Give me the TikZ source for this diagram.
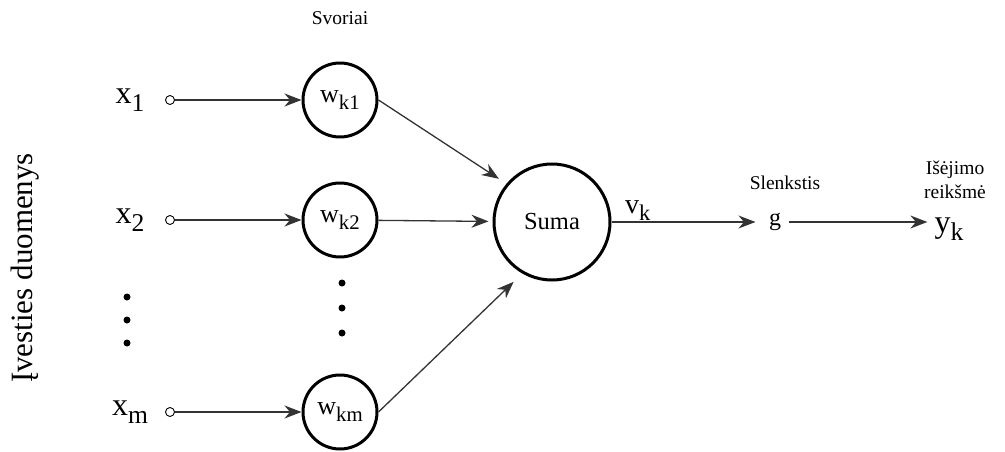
\documentclass[tikz,border=0pt]{standalone}
\usepackage{fontspec}
\usepackage{graphicx}
\setmainfont{Liberation Serif}
\usetikzlibrary{arrows.meta}
\newcommand\idx[1]{\raisebox{-0.24em}{\scalebox{0.8}{#1}}}
\tikzset{
  weight/.style={circle,draw,line width=3pt,minimum size=74pt,inner sep=0pt,font=\fontsize{26}{28}\selectfont},
  suma/.style={circle,draw,line width=3pt,minimum size=116pt,inner sep=0pt,font=\fontsize{24.5}{26}\selectfont},
  inlabel/.style={font=\fontsize{32}{34}\selectfont},
  small/.style={font=\fontsize{19.5}{24}\selectfont},
  port/.style={circle,draw,inner sep=0pt,minimum size=9pt,line width=0.9pt},
  blob/.style={circle,fill,inner sep=0pt,minimum size=7pt},
  link/.style={->,line width=1.3pt,draw=black!80},
}
\begin{document}
\begin{tikzpicture}[x=1pt,y=-1pt,>={Stealth[length=17pt,width=13pt]},line join=round]
\useasboundingbox (0,0) rectangle (1005,452);
% inputs
\node[rotate=90,font=\fontsize{31}{34}\selectfont] (lab) at (25,268) {Įvesties duomenys};
\node[small] (svor) at (340,18) {Svoriai};
\node[inlabel] (x1) at (130,100) {x\idx{1}};
\node[inlabel] (x2) at (130,220) {x\idx{2}};
\node[inlabel] (xm) at (130,412) {x\idx{m}};
\node[port] (p1) at (170,100) {};
\node[port] (p2) at (170,220) {};
\node[port] (pm) at (170,412) {};
\node[weight] (w1) at (340,100) {w\idx{k1}};
\node[weight] (w2) at (340,220) {w\idx{k2}};
\node[weight] (wm) at (340,412) {w\idx{km}};
\foreach \y [count=\i] in {297,320,343} \node[blob] (a\i) at (127,\y) {};
\foreach \y [count=\i] in {283,308,333} \node[blob] (b\i) at (342,\y) {};
\draw[link] (p1) -- (w1);
\draw[link] (p2) -- (w2);
\draw[link] (pm) -- (wm);
% sum and output
\node[suma] (sum) at (552,222) {Suma};
\draw[link] (w1.east) -- (sum.140) [shorten >=9pt];
\draw[link,shorten >=4pt] (w2) -- (sum);
\draw[link,shorten >=12pt] (wm.east) -- (sum.240);
\node[font=\fontsize{24}{26}\selectfont] (g) at (775,222) {g};
\node[small] (thr) at (785,183) {Slenkstis};
\node[inlabel,inner sep=1pt] (yk) at (949,229) {y\idx{k}};
\node[small,align=center,inner sep=1pt] (out) at (955,180) {Išėjimo\\reikšmė};
\draw[link,shorten >=10pt] (sum) -- (g) node[pos=0.17,above=-2pt,font=\fontsize{28}{30}\selectfont] (vk) {v\idx{k}};
\draw[link,shorten >=6pt,shorten <=4pt] (g) -- (g -| yk.west);
\end{tikzpicture}
\end{document}
